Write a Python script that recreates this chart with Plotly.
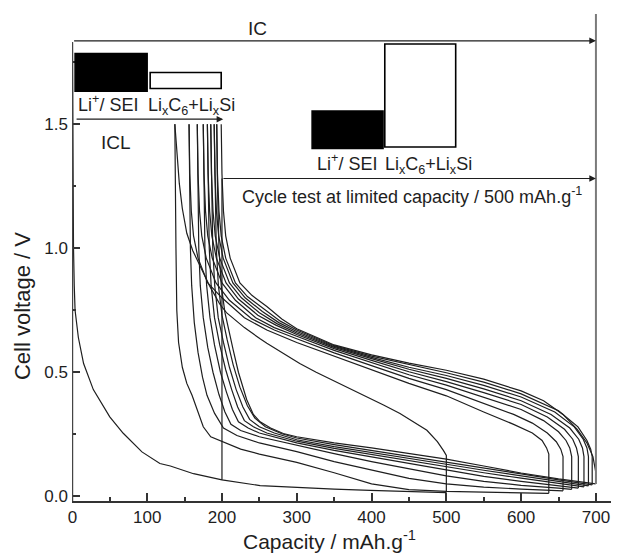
import plotly.graph_objects as go

# ---------------- data (capacity in mAh/g, voltage in V) ----------------
# first discharge
d1_cap = [0, 0.3, 0.8, 1.5, 2.5, 3.6, 8, 15, 28, 50, 68, 93, 117, 131, 162, 200, 251, 300, 350, 398, 450, 500]
d1_v = [1.83, 1.6, 1.3, 1.0, 0.85, 0.75, 0.64, 0.535, 0.43, 0.32, 0.254, 0.179, 0.132, 0.122, 0.091, 0.066, 0.043, 0.035, 0.029, 0.024, 0.019, 0.015]
# first charge
c1_cap = [500, 500, 496, 488, 474, 456, 438, 416, 394, 370, 349, 326, 304, 282, 260, 251, 230, 206, 197, 184, 171, 161, 153, 147, 143, 139.6, 137]
c1_v = [0.015, 0.165, 0.185, 0.22, 0.266, 0.30, 0.334, 0.368, 0.40, 0.436, 0.468, 0.50, 0.535, 0.575, 0.617, 0.635, 0.68, 0.74, 0.775, 0.845, 0.925, 0.99, 1.06, 1.16, 1.26, 1.395, 1.5]

# cycling at limited capacity: discharges
d2_cap = [137, 137.5, 138.5, 139.6, 142, 147, 153, 160, 168, 175, 185, 202, 225, 250, 300, 350, 400, 450, 500, 550, 600, 637]
d2_v = [1.5, 1.25, 1.0, 0.75, 0.62, 0.52, 0.455, 0.407, 0.34, 0.28, 0.24, 0.219, 0.19, 0.17, 0.137, 0.095, 0.05, 0.027, 0.02, 0.017, 0.014, 0.012]
d3_cap = [156, 156.7, 157.8, 159.5, 163, 168, 174, 180, 190, 202, 220, 250, 300, 350, 400, 450, 500, 550, 600, 656]
d3_v = [1.5, 1.25, 1.0, 0.85, 0.7, 0.58, 0.48, 0.407, 0.335, 0.275, 0.245, 0.215, 0.18, 0.14, 0.105, 0.072, 0.05, 0.037, 0.029, 0.022]
d4_cap = [167, 167.8, 169, 171, 175, 181, 188, 196, 204, 212, 225, 250, 300, 350, 400, 450, 500, 550, 600, 650, 667.6]
d4_v = [1.5, 1.25, 1.0, 0.85, 0.72, 0.6, 0.5, 0.41, 0.34, 0.29, 0.265, 0.24, 0.205, 0.172, 0.14, 0.11, 0.082, 0.06, 0.044, 0.033, 0.028]
d5_cap = [175, 175.8, 177.2, 179.5, 184, 190, 198, 206, 214, 222, 235, 250, 300, 350, 400, 450, 500, 550, 600, 650, 676.5]
d5_v = [1.5, 1.25, 1.0, 0.85, 0.72, 0.61, 0.5, 0.42, 0.35, 0.3, 0.275, 0.255, 0.215, 0.185, 0.158, 0.131, 0.105, 0.08, 0.06, 0.043, 0.033]
d6_cap = [180.5, 181.4, 183, 185.5, 190, 197, 205, 213, 221, 230, 242, 260, 300, 350, 400, 450, 500, 550, 600, 650, 684]
d6_v = [1.5, 1.25, 1.0, 0.85, 0.72, 0.61, 0.51, 0.43, 0.36, 0.305, 0.28, 0.255, 0.222, 0.193, 0.168, 0.143, 0.119, 0.095, 0.073, 0.052, 0.038]
d7_cap = [185, 186, 187.7, 190.3, 195, 202, 210, 219, 228, 237, 250, 270, 300, 350, 400, 450, 500, 550, 600, 650, 690]
d7_v = [1.5, 1.25, 1.0, 0.85, 0.72, 0.62, 0.52, 0.43, 0.36, 0.31, 0.28, 0.255, 0.228, 0.2, 0.177, 0.152, 0.129, 0.105, 0.083, 0.06, 0.042]
d8_cap = [189.6, 190.6, 192.4, 195.2, 200, 207, 215, 224, 234, 244, 258, 280, 300, 350, 400, 450, 500, 550, 600, 650, 695]
d8_v = [1.5, 1.25, 1.0, 0.85, 0.73, 0.63, 0.53, 0.44, 0.365, 0.315, 0.28, 0.252, 0.235, 0.208, 0.185, 0.16, 0.137, 0.114, 0.09, 0.066, 0.046]
d9_cap = [193, 194, 196, 199, 204, 210, 215, 222, 228, 233, 242, 251, 265, 282, 300, 350, 400, 450, 500, 550, 600, 650, 680, 699.6]
d9_v = [1.5, 1.25, 1.0, 0.85, 0.74, 0.65, 0.59, 0.5, 0.44, 0.39, 0.33, 0.30, 0.275, 0.253, 0.24, 0.215, 0.195, 0.172, 0.15, 0.122, 0.094, 0.07, 0.057, 0.05]

# cycling at limited capacity: charges
c2_cap = [637, 637, 634, 628, 615, 590, 550, 500, 450, 400, 350, 300, 260, 230, 200, 181, 168, 162, 159, 157, 156]
c2_v = [0.012, 0.17, 0.195, 0.225, 0.255, 0.29, 0.34, 0.405, 0.455, 0.51, 0.565, 0.62, 0.67, 0.72, 0.80, 0.86, 0.96, 1.05, 1.15, 1.3, 1.5]
c3_cap = [656, 656, 653, 647, 635, 615, 590, 550, 500, 450, 400, 350, 300, 270, 240, 210, 192, 179, 173, 170, 168, 167]
c3_v = [0.022, 0.16, 0.19, 0.22, 0.255, 0.295, 0.33, 0.375, 0.43, 0.475, 0.527, 0.578, 0.635, 0.67, 0.715, 0.79, 0.86, 0.96, 1.05, 1.15, 1.3, 1.5]
c4_cap = [667.6, 667.6, 665, 660, 650, 630, 600, 550, 500, 450, 400, 350, 300, 270, 245, 218, 200, 187, 181, 178, 176, 175]
c4_v = [0.028, 0.16, 0.195, 0.225, 0.26, 0.305, 0.35, 0.40, 0.448, 0.49, 0.54, 0.588, 0.645, 0.68, 0.72, 0.79, 0.86, 0.96, 1.05, 1.15, 1.3, 1.5]
c5_cap = [676.5, 676.5, 674, 669, 658, 635, 600, 550, 500, 450, 400, 350, 300, 272, 248, 222, 205.5, 192.5, 186.5, 183.5, 181.5, 180.5]
c5_v = [0.033, 0.16, 0.195, 0.23, 0.27, 0.32, 0.37, 0.418, 0.462, 0.502, 0.548, 0.595, 0.652, 0.69, 0.73, 0.795, 0.86, 0.96, 1.05, 1.15, 1.3, 1.5]
c6_cap = [684, 684, 682, 677, 665, 640, 600, 550, 500, 450, 400, 350, 300, 274, 250, 226, 210, 197, 191, 188, 186, 185]
c6_v = [0.038, 0.16, 0.195, 0.23, 0.275, 0.33, 0.385, 0.433, 0.475, 0.512, 0.555, 0.6, 0.658, 0.695, 0.74, 0.8, 0.86, 0.96, 1.05, 1.15, 1.3, 1.5]
c7_cap = [690, 690, 688, 683, 671, 645, 600, 550, 500, 450, 400, 350, 300, 276, 254, 231, 214.6, 201.6, 195.6, 192.6, 190.6, 189.6]
c7_v = [0.042, 0.16, 0.195, 0.23, 0.28, 0.34, 0.4, 0.447, 0.487, 0.52, 0.56, 0.604, 0.664, 0.7, 0.745, 0.8, 0.86, 0.96, 1.05, 1.15, 1.3, 1.5]
c8_cap = [695, 695, 693, 688, 676, 650, 600, 550, 500, 450, 400, 350, 300, 278, 257, 234, 218, 205, 199, 196, 194, 193]
c8_v = [0.046, 0.16, 0.19, 0.225, 0.28, 0.345, 0.413, 0.46, 0.498, 0.53, 0.565, 0.607, 0.67, 0.706, 0.752, 0.805, 0.86, 0.96, 1.05, 1.15, 1.3, 1.5]
c9_cap = [699.6, 699.6, 696, 688, 675, 656, 630, 600, 550, 500, 450, 400, 350, 300, 280, 260, 240, 224, 211, 205, 202, 200, 199]
c9_v = [0.05, 0.1, 0.16, 0.215, 0.27, 0.33, 0.385, 0.425, 0.472, 0.508, 0.537, 0.57, 0.61, 0.675, 0.715, 0.765, 0.81, 0.86, 0.96, 1.05, 1.15, 1.3, 1.5]

# annotation quantities
ic_cap = 700          # initial capacity
icl_cap = 200         # initial capacity loss
cycle_limit = 500     # limited capacity of the cycle test
sei_box1 = [3.6, 100]       # Li+/SEI share of ICL
lix_box1 = [104, 199]       # LixC6+LixSi share of ICL
sei_box2 = [320.5, 415.4]
lix_box2 = [417.7, 512.5]

x_ticks = [0, 100, 200, 300, 400, 500, 600, 700]
y_ticks = [0.0, 0.5, 1.0, 1.5]
y_tick_text = ["0.0", "0.5", "1.0", "1.5"]

# ---------------- figure ----------------
INK = "#1e1e1e"
FONT = "Liberation Sans, Arial, Helvetica, sans-serif"

fig = go.Figure()
curves = [
    (d1_cap, d1_v), (c1_cap, c1_v),
    (d2_cap, d2_v), (c2_cap, c2_v),
    (d3_cap, d3_v), (c3_cap, c3_v),
    (d4_cap, d4_v), (c4_cap, c4_v),
    (d5_cap, d5_v), (c5_cap, c5_v),
    (d6_cap, d6_v), (c6_cap, c6_v),
    (d7_cap, d7_v), (c7_cap, c7_v),
    (d8_cap, d8_v), (c8_cap, c8_v),
    (d9_cap, d9_v), (c9_cap, c9_v),
]
for cap, v in curves:
    fig.add_trace(go.Scatter(x=cap, y=v, mode="lines",
                             line=dict(color=INK, width=1.2),
                             hoverinfo="skip", showlegend=False))

XMIN, XMAX = -0.5, 725.5
YMIN, YMAX = -0.019, 1.944

shapes = []
# left spine (stops at the top of the first discharge)
shapes.append(dict(type="line", xref="x", yref="y", x0=XMIN + 0.3, x1=XMIN + 0.3,
                   y0=YMIN, y1=1.83, line=dict(color="#444", width=2)))
# IC marker line
shapes.append(dict(type="line", xref="x", yref="y", x0=ic_cap, x1=ic_cap,
                   y0=0.05, y1=YMAX, line=dict(color="#7a7a7a", width=2)))
# cycle-test start line
shapes.append(dict(type="line", xref="x", yref="y", x0=icl_cap, x1=icl_cap,
                   y0=0.066, y1=1.281, line=dict(color=INK, width=1.2)))
# boxes
shapes.append(dict(type="rect", xref="x", yref="y", x0=sei_box1[0], x1=sei_box1[1],
                   y0=1.633, y1=1.785, fillcolor="black", line=dict(color="black", width=1.5)))
shapes.append(dict(type="rect", xref="x", yref="y", x0=lix_box1[0], x1=lix_box1[1],
                   y0=1.644, y1=1.708, fillcolor="white", line=dict(color="black", width=1.6)))
shapes.append(dict(type="rect", xref="x", yref="y", x0=sei_box2[0], x1=sei_box2[1],
                   y0=1.402, y1=1.553, fillcolor="black", line=dict(color="black", width=1.5)))
shapes.append(dict(type="rect", xref="x", yref="y", x0=lix_box2[0], x1=lix_box2[1],
                   y0=1.408, y1=1.823, fillcolor="white", line=dict(color="black", width=1.6)))

ann = []
def arrow(x0, x1, y):
    return dict(x=x1, y=y, ax=x0, ay=y, xref="x", yref="y", axref="x", ayref="y",
                text="", showarrow=True, arrowhead=2, arrowsize=1.1, arrowwidth=1.2,
                arrowcolor=INK, standoff=0, startstandoff=0)

ann.append(arrow(0.3, ic_cap, 1.836))
ann.append(arrow(3.6, icl_cap + 1.7, 1.52))
ann.append(arrow(icl_cap, icl_cap + cycle_limit, 1.281))

def label(x, y, text, size):
    return dict(x=x, y=y, xref="x", yref="y", text=text, showarrow=False,
                font=dict(family=FONT, size=size, color=INK),
                xanchor="center", yanchor="middle")

ann.append(label(247.4, 1.886, "IC", 19))
ann.append(label(58.4, 1.427, "ICL", 19))
ann.append(label(47, 1.585, "Li<sup>+</sup>/ SEI", 18))
ann.append(label(159.4, 1.573, "Li<sub>x</sub>C<sub>6</sub>+Li<sub>x</sub>Si", 18))
ann.append(label(367.6, 1.345, "Li<sup>+</sup>/ SEI", 18))
ann.append(label(475.6, 1.333, "Li<sub>x</sub>C<sub>6</sub>+Li<sub>x</sub>Si", 18))
ann.append(label(454.6, 1.212, "Cycle test at limited capacity / 500 mAh.g<sup>-1</sup>", 18))

# axis titles
ann.append(dict(x=344, y=-0.081, xref="x", yref="paper", text="Capacity / mAh.g<sup>-1</sup>",
                showarrow=False, font=dict(family=FONT, size=21, color=INK),
                xanchor="center", yanchor="middle"))
ann.append(dict(x=-0.091, y=0.765, xref="paper", yref="y", text="Cell voltage / V",
                textangle=-90, showarrow=False, font=dict(family=FONT, size=22, color=INK),
                xanchor="center", yanchor="middle"))

# the page body adds an 8 px offset, so the figure is 8 px smaller and margins shifted
fig.update_layout(
    width=611, height=546,
    margin=dict(l=64, r=4, t=6, b=53),
    paper_bgcolor="white", plot_bgcolor="white",
    shapes=shapes, annotations=ann,
    font=dict(family=FONT, color=INK),
    xaxis=dict(range=[XMIN, XMAX], showgrid=False, zeroline=False,
               showline=True, linecolor="#333", linewidth=1.5, mirror=False,
               tickmode="array", tickvals=x_ticks, ticks="inside", ticklen=8,
               tickwidth=1.5, tickcolor="#333",
               tickfont=dict(family=FONT, size=17, color=INK),
               minor=dict(dtick=50, tick0=0, ticks="inside", ticklen=4,
                          tickwidth=1.5, tickcolor="#333", showgrid=False)),
    yaxis=dict(range=[YMIN, YMAX], showgrid=False, zeroline=False, showline=False,
               tickmode="array", tickvals=y_ticks, ticktext=y_tick_text,
               ticks="inside", ticklen=8, tickwidth=1.5, tickcolor="#333",
               ticklabelstandoff=3,
               tickfont=dict(family=FONT, size=17, color=INK),
               minor=dict(tickvals=[0.25, 0.75, 1.25, 1.75], ticks="inside", ticklen=4,
                          tickwidth=1.5, tickcolor="#333", showgrid=False)),
)

fig.write_html("out.html")
